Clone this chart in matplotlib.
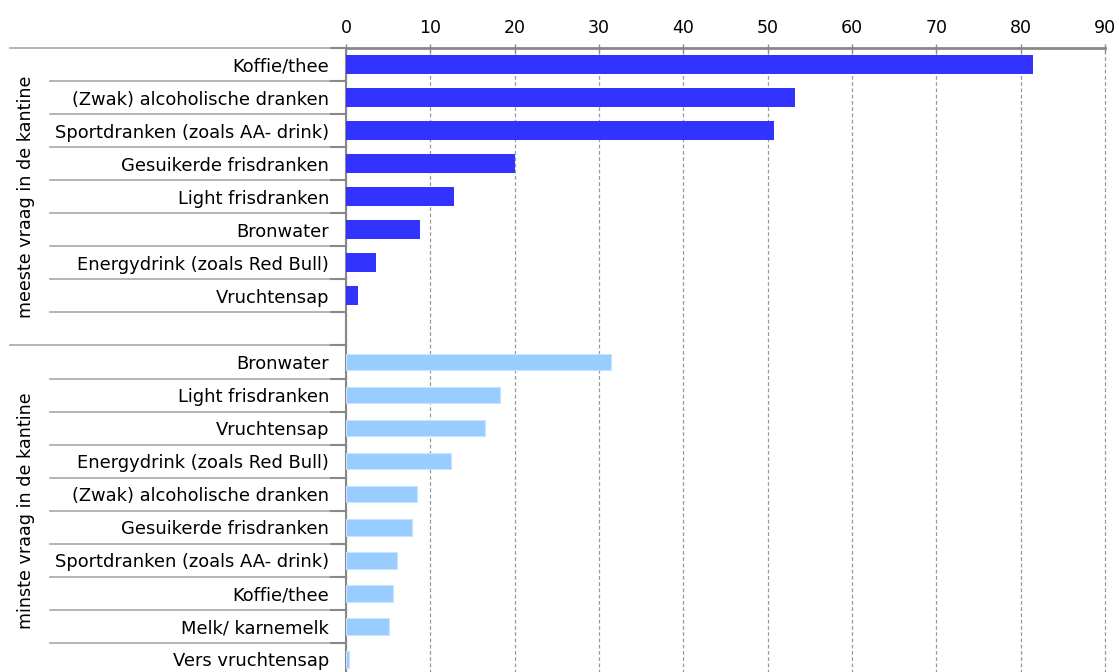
import matplotlib.pyplot as plt
import matplotlib.transforms as mtransforms

meeste_labels = ["Koffie/thee", "(Zwak) alcoholische dranken", "Sportdranken (zoals AA- drink)",
                 "Gesuikerde frisdranken", "Light frisdranken", "Bronwater",
                 "Energydrink (zoals Red Bull)", "Vruchtensap"]
meeste_values = [81.5, 53.3, 50.8, 20.0, 12.8, 8.8, 3.6, 1.4]

minste_labels = ["Bronwater", "Light frisdranken", "Vruchtensap", "Energydrink (zoals Red Bull)",
                 "(Zwak) alcoholische dranken", "Gesuikerde frisdranken",
                 "Sportdranken (zoals AA- drink)", "Koffie/thee", "Melk/ karnemelk",
                 "Vers vruchtensap"]
minste_values = [31.4, 18.3, 16.5, 12.5, 8.4, 7.8, 6.0, 5.6, 5.1, 0.35]

group_names = ["meeste vraag in de kantine", "minste vraag in de kantine"]
xticks = [0, 10, 20, 30, 40, 50, 60, 70, 80, 90]

plt.rcParams['font.family'] = ['DejaVu Sans']
fig = plt.figure(figsize=(11.19, 6.72), dpi=100)
ax = fig.add_axes([346/1119, 1-676/672, 759/1119, 628/672])

y1 = list(range(len(meeste_values)))
y2 = [len(meeste_values) + 1 + i for i in range(len(minste_values))]
n_rows = y2[-1] + 1

ax.barh(y1, meeste_values, height=0.58, color="#3333FF", zorder=3)
ax.barh(y2, minste_values, height=0.5, color="#99CCFF", edgecolor="#C8E2FF", linewidth=0.8, zorder=3)

ax.set_xlim(0, 90)
ax.set_ylim(n_rows - 0.5, -0.5)
ax.xaxis.tick_top()
ax.set_xticks(xticks)
ax.tick_params(axis='x', direction='inout', length=6, width=1, color="#888888",
               labelsize=12.5, pad=5)
ax.set_yticks(y1 + y2)
ax.set_yticklabels(meeste_labels + minste_labels)
ax.tick_params(axis='y', length=0, labelsize=12.9, pad=12)

ax.grid(axis='x', linestyle=(0, (3, 2)), color="#999999", linewidth=0.9, zorder=0)
for gl in ax.get_xgridlines():
    gl.set_clip_on(False)
for s in ["right", "bottom"]:
    ax.spines[s].set_visible(False)
ax.spines["top"].set_color("#888888")
ax.spines["top"].set_linewidth(2)
ax.spines["left"].set_color("#888888")
ax.spines["left"].set_linewidth(1.5)

# separators in the label area
trans = mtransforms.blended_transform_factory(ax.transAxes, ax.transData)
group_starts = [-0.5, len(meeste_values) + 0.5]
for b in range(n_rows):
    yb = b - 0.5
    x0 = -0.443 if yb in group_starts else -0.39
    ax.plot([x0, 0], [yb, yb], transform=trans, color="#A8A8A8", linewidth=1.2, clip_on=False)
    ax.plot([-0.02, 0], [yb, yb], transform=trans, color="#888888", linewidth=1.5, clip_on=False)

ax.text(-0.422, (group_starts[0] + group_starts[1]) / 2, group_names[0], transform=trans,
        rotation=90, ha='center', va='center', fontsize=12.6)
ax.text(-0.422, (group_starts[1] + n_rows - 0.5) / 2, group_names[1], transform=trans,
        rotation=90, ha='center', va='center', fontsize=12.6)

fig.savefig("out.png", dpi=100)
